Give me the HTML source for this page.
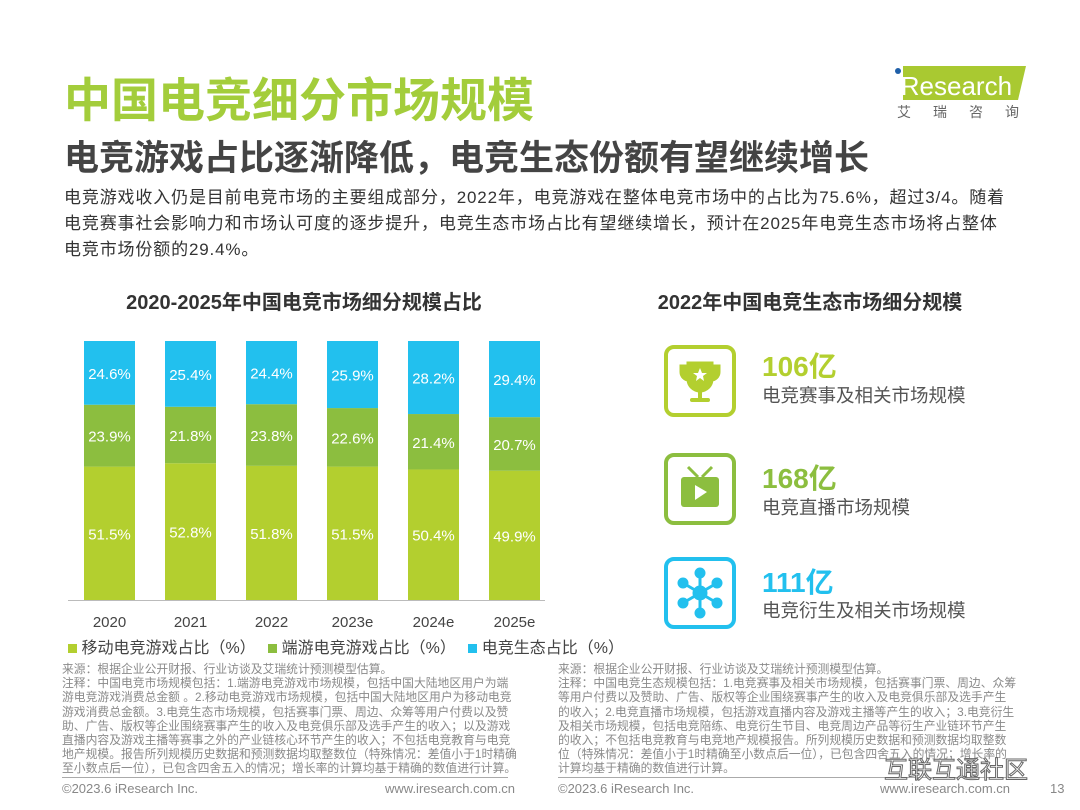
<!DOCTYPE html>
<html><head><meta charset="utf-8">
<style>
body{margin:0;width:1080px;height:810px;background:#fff;position:relative;overflow:hidden;font-family:"Liberation Sans","Noto Sans CJK SC",sans-serif;}
.a{position:absolute;white-space:nowrap;}
.fn{font-size:11.8px;line-height:14.2px;color:#8a8a8a;white-space:normal;}
.num{font-size:28px;font-weight:bold;line-height:30px;}
.lbl{font-size:18.5px;color:#555;line-height:22px;}
.box{position:absolute;width:72px;height:72px;border:4px solid;border-radius:10px;box-sizing:border-box;}
</style></head><body>
<div class="a" style="left:64px;top:62px;font-size:47px;color:#a3cd3b;font-weight:bold;">中国电竞细分市场规模</div>
<div class="a" style="left:64px;top:130px;font-size:35px;color:#444;font-weight:bold;">电竞游戏占比逐渐降低，电竞生态份额有望继续增长</div>
<div style="position:absolute;left:893px;top:62px;width:140px;height:40px;">
<svg width="140" height="40"><polygon points="10,4 133,4 125,38 10,38" fill="#a9c931"/><circle cx="5" cy="9" r="3" fill="#1f5fa8"/><text x="2" y="33" font-size="26" fill="#fff" font-family="Liberation Sans">iResearch</text></svg></div>
<div class="a" style="left:897px;top:102px;font-size:14px;color:#666;letter-spacing:22px;">艾瑞咨询</div>
<div class="a" style="left:64px;top:185px;width:955px;font-size:17px;line-height:26px;color:#333;white-space:normal;letter-spacing:0.85px;">电竞游戏收入仍是目前电竞市场的主要组成部分，2022年，电竞游戏在整体电竞市场中的占比为75.6%，超过3/4。随着<br>电竞赛事社会影响力和市场认可度的逐步提升，电竞生态市场占比有望继续增长，预计在2025年电竞生态市场将占整体<br>电竞市场份额的29.4%。</div>
<div class="a" style="left:68px;width:472px;text-align:center;top:286px;font-size:20px;font-weight:bold;color:#333;">2020-2025年中国电竞市场细分规模占比</div>
<div class="a" style="left:630px;width:360px;text-align:center;top:286px;font-size:20px;font-weight:bold;color:#333;">2022年中国电竞生态市场细分规模</div>
<svg id="chart" style="position:absolute;left:0;top:0" width="560" height="640"></svg>
<div class="a" style="left:68px;top:634px;font-size:16px;color:#444;">
<span><span style="display:inline-block;width:9px;height:9px;background:#b3cf2f;"></span> 移动电竞游戏占比（%）</span>
<span style="margin-left:8px"><span style="display:inline-block;width:9px;height:9px;background:#8cbe3f;"></span> 端游电竞游戏占比（%）</span>
<span style="margin-left:8px"><span style="display:inline-block;width:9px;height:9px;background:#22c0ee;"></span> 电竞生态占比（%）</span></div>
<div class="box" style="left:664px;top:345px;border-color:#b3cf2f;"><svg width="64" height="64"><path d="M20 14h24v16a12 12 0 0 1-24 0z M20 17h-7v6a8 8 0 0 0 8 8 M44 17h7v6a8 8 0 0 1-8 8" fill="#b3cf2f" stroke="#b3cf2f" stroke-width="3"/><rect x="30" y="40" width="4" height="10" fill="#b3cf2f"/><rect x="22" y="49" width="20" height="4" rx="2" fill="#b3cf2f"/><polygon points="32,19 34,24 39,24 35,27 36,32 32,29 28,32 29,27 25,24 30,24" fill="#fff"/></svg></div>
<div class="box" style="left:664px;top:453px;border-color:#8cbe3f;"><svg width="64" height="64"><line x1="20" y1="10" x2="30" y2="20" stroke="#8cbe3f" stroke-width="3"/><line x1="44" y1="10" x2="34" y2="20" stroke="#8cbe3f" stroke-width="3"/><rect x="13" y="20" width="38" height="30" rx="3" fill="#8cbe3f"/><polygon points="27,28 27,43 39,35" fill="#fff"/></svg></div>
<div class="box" style="left:664px;top:557px;border-color:#22c0ee;"><svg width="64" height="64" stroke="#22c0ee" stroke-width="3" fill="#22c0ee"><line x1="32" y1="32" x2="32" y2="12"/><line x1="32" y1="32" x2="32" y2="52"/><line x1="32" y1="32" x2="15" y2="22"/><line x1="32" y1="32" x2="49" y2="22"/><line x1="32" y1="32" x2="15" y2="42"/><line x1="32" y1="32" x2="49" y2="42"/><circle cx="32" cy="32" r="6"/><circle cx="32" cy="12" r="4"/><circle cx="32" cy="52" r="4"/><circle cx="15" cy="22" r="4"/><circle cx="49" cy="22" r="4"/><circle cx="15" cy="42" r="4"/><circle cx="49" cy="42" r="4"/></svg></div>
<div class="a num" style="left:762px;top:352px;color:#b3cf2f;">106亿</div>
<div class="a lbl" style="left:762px;top:385px;">电竞赛事及相关市场规模</div>
<div class="a num" style="left:762px;top:464px;color:#8cbe3f;">168亿</div>
<div class="a lbl" style="left:762px;top:497px;">电竞直播市场规模</div>
<div class="a num" style="left:762px;top:568px;color:#22c0ee;">111亿</div>
<div class="a lbl" style="left:762px;top:600px;">电竞衍生及相关市场规模</div>
<div class="a fn" style="left:62px;top:662px;width:456px;">来源：根据企业公开财报、行业访谈及艾瑞统计预测模型估算。<br>注释：中国电竞市场规模包括：1.端游电竞游戏市场规模，包括中国大陆地区用户为端游电竞游戏消费总金额 。2.移动电竞游戏市场规模，包括中国大陆地区用户为移动电竞游戏消费总金额。3.电竞生态市场规模，包括赛事门票、周边、众筹等用户付费以及赞助、广告、版权等企业围绕赛事产生的收入及电竞俱乐部及选手产生的收入；以及游戏直播内容及游戏主播等赛事之外的产业链核心环节产生的收入；不包括电竞教育与电竞地产规模。报告所列规模历史数据和预测数据均取整数位（特殊情况：差值小于1时精确至小数点后一位），已包含四舍五入的情况；增长率的计算均基于精确的数值进行计算。</div>
<div class="a fn" style="left:558px;top:662px;width:460px;">来源：根据企业公开财报、行业访谈及艾瑞统计预测模型估算。<br>注释：中国电竞生态规模包括：1.电竞赛事及相关市场规模，包括赛事门票、周边、众筹等用户付费以及赞助、广告、版权等企业围绕赛事产生的收入及电竞俱乐部及选手产生的收入；2.电竞直播市场规模，包括游戏直播内容及游戏主播等产生的收入；3.电竞衍生及相关市场规模，包括电竞陪练、电竞衍生节目、电竞周边产品等衍生产业链环节产生的收入；不包括电竞教育与电竞地产规模报告。所列规模历史数据和预测数据均取整数位（特殊情况：差值小于1时精确至小数点后一位），已包含四舍五入的情况；增长率的计算均基于精确的数值进行计算。</div>
<div style="position:absolute;left:62px;top:777px;width:446px;height:1px;background:#aaa;"></div>
<div style="position:absolute;left:558px;top:777px;width:460px;height:1px;background:#aaa;"></div>
<div class="a" style="left:62px;top:781px;font-size:13px;color:#888;">©2023.6 iResearch Inc.</div>
<div class="a" style="left:385px;top:781px;font-size:13px;color:#888;">www.iresearch.com.cn</div>
<div class="a" style="left:558px;top:781px;font-size:13px;color:#888;">©2023.6 iResearch Inc.</div>
<div class="a" style="left:880px;top:781px;font-size:13px;color:#888;">www.iresearch.com.cn</div>
<div class="a" style="left:1050px;top:781px;font-size:13px;color:#888;">13</div>
<div class="a" style="left:884px;top:750px;font-size:24px;color:rgba(255,255,255,0.9);-webkit-text-stroke:1px #666;">互联互通社区</div>
<script>
const years=["2020","2021","2022","2023e","2024e","2025e"];
const mobile=[51.5,52.8,51.8,51.5,50.4,49.9];
const pc=[23.9,21.8,23.8,22.6,21.4,20.7];
const eco=[24.6,25.4,24.4,25.9,28.2,29.4];
const svg=document.getElementById('chart');
const NS='http://www.w3.org/2000/svg';
const y0=600,y1=341,x0=84,pitch=81,bw=51;
function hS(v){return (y0-y1)*v/100;}
function xS(i){return x0+i*pitch;}
function mk(t,a){const e=document.createElementNS(NS,t);for(const k in a)e.setAttribute(k,a[k]);svg.appendChild(e);return e;}
const axis=mk('line',{x1:68,x2:545,y1:y0+0.5,y2:y0+0.5,stroke:'#bbb','stroke-width':1});


const series=[[mobile,'#b3cf2f','mobile'],[pc,'#8cbe3f','pc'],[eco,'#22c0ee','ecosystem']];
years.forEach((yr,i)=>{
  let base=0;
  series.forEach(([arr,col,nm],s)=>{
    let v=arr[i];
    if(s===2){v=Math.max(v,100-base);}
    const top=y0-hS(base+v);
    const r=mk('rect',{x:xS(i),y:top,width:bw,height:hS(v),fill:col});
    
    
    const t=mk('text',{x:xS(i)+bw/2,y:top+hS(v)/2+6,'text-anchor':'middle','font-size':15,fill:'#fff','font-family':'Liberation Sans'});
    t.textContent=arr[i].toFixed(1)+'%';
    
    
    base+=v;
  });
  const l=mk('text',{x:xS(i)+bw/2,y:627,'text-anchor':'middle','font-size':15,fill:'#444','font-family':'Liberation Sans'});
  l.textContent=yr;
  
  
});
</script>
</body></html>
